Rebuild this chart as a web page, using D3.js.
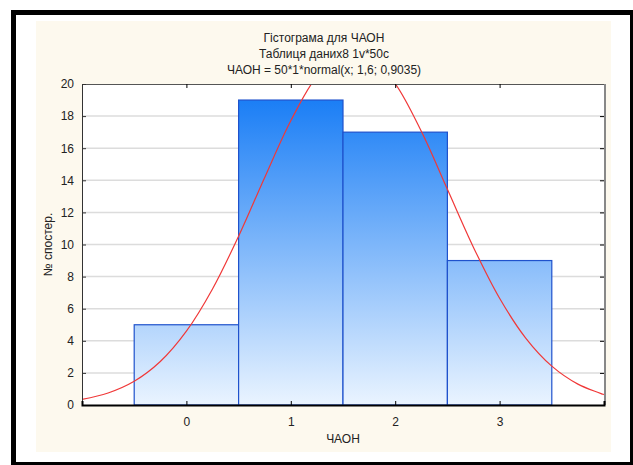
<!DOCTYPE html>
<html>
<head>
<meta charset="utf-8">
<script src="https://cdn.jsdelivr.net/npm/d3@7"></script>
<style>
  body { margin: 0; background: #fff; }
  svg { display: block; font-family: "Liberation Sans", Arial, sans-serif; }
  .tick text { font-size: 12px; fill: #222; }
</style>
</head>
<body>
<svg id="chart" width="633" height="465"></svg>
<script>
// histogram bins (centre, count)
var categories = [0, 1, 2, 3];
var counts = [5, 19, 17, 9];
var yTicks = [0, 2, 4, 6, 8, 10, 12, 14, 16, 18, 20];
var titleLines = ["Гістограма для ЧАОН", "Таблиця даних8 1v*50c", "ЧАОН = 50*1*normal(x; 1,6; 0,9035)"];
// fitted normal curve
var curveX = [-1, -0.75, -0.5, -0.25, 0, 0.25, 0.5, 0.75, 1, 1.25, 1.5, 1.75, 2, 2.25, 2.5, 2.75, 3, 3.25, 3.5, 3.75, 4];
var curveY = [0.35, 0.75, 1.48, 2.71, 4.6, 7.23, 10.52, 14.18, 17.71, 20.48, 21.95, 21.78, 20.02, 17.05, 13.44, 9.82, 6.65, 4.17, 2.42, 1.3, 0.65];

var svg = d3.select("#chart");

// outer frame
svg.append("rect").attr("x", 11).attr("y", 10).attr("width", 622).attr("height", 455).attr("fill", "#000");
svg.append("rect").attr("x", 16).attr("y", 15).attr("width", 614).attr("height", 447).attr("fill", "#fff");

// cream panel
svg.append("rect").attr("x", 36).attr("y", 21).attr("width", 575).attr("height", 431).attr("fill", "#fdf9ee");

var margin = {top: 84, left: 82};
var width = 604 - 82;
var height = 405 - 84;

var x = d3.scaleLinear().domain([-1, 4]).range([0, width]);
var y = d3.scaleLinear().domain([0, 20]).range([height, 0]);

var defs = svg.append("defs");
var grad = defs.append("linearGradient").attr("id", "barGrad")
  .attr("gradientUnits", "userSpaceOnUse")
  .attr("x1", 0).attr("x2", 0).attr("y1", 0).attr("y2", height);
grad.append("stop").attr("offset", "0%").attr("stop-color", "#1078f5");
grad.append("stop").attr("offset", "100%").attr("stop-color", "#eaf4ff");
defs.append("clipPath").attr("id", "plotClip").append("rect")
  .attr("width", width).attr("height", height);

var chart = svg.append("g")
  .attr("transform", "translate(" + margin.left + "," + margin.top + ")");

chart.append("rect").attr("width", width).attr("height", height).attr("fill", "#fff");

// gridlines
chart.append("g").selectAll("line").data(yTicks.slice(1, -1)).enter().append("line")
  .attr("x1", 0).attr("x2", width)
  .attr("y1", function(d) { return y(d); }).attr("y2", function(d) { return y(d); })
  .attr("stroke", "#dcdcdc").attr("stroke-width", 1.5);

// bars
chart.append("g").selectAll("rect").data(categories).enter().append("rect")
  .attr("x", function(d) { return x(d - 0.5); })
  .attr("y", function(d, i) { return y(counts[i]); })
  .attr("width", function(d) { return x(d + 0.5) - x(d - 0.5); })
  .attr("height", function(d, i) { return height - y(counts[i]); })
  .attr("fill", "url(#barGrad)")
  .attr("stroke", "#1f52cc").attr("stroke-width", 1.2);

// normal curve
var line = d3.line()
  .x(function(d, i) { return x(curveX[i]); })
  .y(function(d) { return y(d); })
  .curve(d3.curveCatmullRom);
chart.append("path").datum(curveY)
  .attr("clip-path", "url(#plotClip)")
  .attr("d", line)
  .attr("fill", "none").attr("stroke", "#f03838").attr("stroke-width", 1.2);

// frame
chart.append("line").attr("x1", 0).attr("x2", width).attr("y1", 0.5).attr("y2", 0.5).attr("stroke", "#555");
chart.append("line").attr("x1", 0.5).attr("x2", 0.5).attr("y1", 0).attr("y2", height).attr("stroke", "#333");
chart.append("line").attr("x1", width + 1).attr("x2", width + 1).attr("y1", 0).attr("y2", height).attr("stroke", "#888").attr("stroke-width", 2);

// axes
var yAxis = chart.append("g")
  .call(d3.axisLeft(y).tickValues(yTicks).tickSize(-4).tickPadding(8));
yAxis.select(".domain").remove();
yAxis.selectAll(".tick line").attr("stroke", "#333");

var yAxisR = chart.append("g").attr("transform", "translate(" + width + ",0)")
  .call(d3.axisRight(y).tickValues(yTicks.slice(1, -1)).tickSize(-4).tickFormat(""));
yAxisR.select(".domain").remove();

var xAxis = chart.append("g").attr("transform", "translate(0," + height + ")")
  .call(d3.axisBottom(x).tickValues(categories).tickSize(-4).tickPadding(12).tickFormat(d3.format("d")));
xAxis.select(".domain").attr("stroke", "#000").attr("stroke-width", 2);

var xAxisT = chart.append("g")
  .call(d3.axisTop(x).tickValues(categories).tickSize(-4).tickFormat(""));
xAxisT.select(".domain").remove();

// titles
svg.append("g").selectAll("text").data(titleLines).enter().append("text")
  .attr("x", 324).attr("y", function(d, i) { return 42 + i * 16; })
  .attr("text-anchor", "middle").attr("font-size", "12px").attr("fill", "#222")
  .text(function(d) { return d; });

svg.append("text")
  .attr("transform", "rotate(-90)")
  .attr("x", -(margin.top + height / 2)).attr("y", 52)
  .attr("text-anchor", "middle").attr("font-size", "12px").attr("fill", "#222")
  .text("№ спостер.");

svg.append("text")
  .attr("x", margin.left + width / 2).attr("y", 443)
  .attr("text-anchor", "middle").attr("font-size", "12px").attr("fill", "#222")
  .text("ЧАОН");
</script>
</body>
</html>
